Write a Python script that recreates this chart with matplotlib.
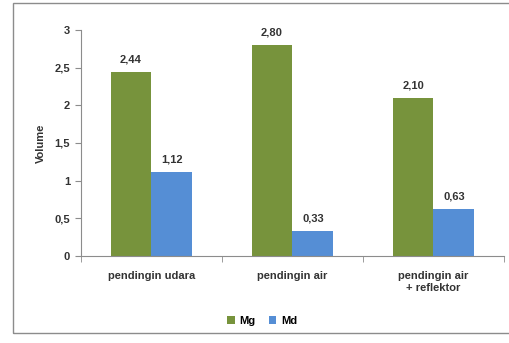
import numpy as np
import matplotlib
matplotlib.use("Agg")
import matplotlib.pyplot as plt
from matplotlib.patches import Rectangle

categories = ["pendingin udara", "pendingin air", "pendingin air\n+ reflektor"]
mg_values = [2.44, 2.80, 2.10]
md_values = [1.12, 0.33, 0.63]
y_ticks = [0, 0.5, 1, 1.5, 2, 2.5, 3]
y_tick_labels = ["0", "0,5", "1", "1,5", "2", "2,5", "3"]

plt.rcParams["font.family"] = ["Liberation Sans", "DejaVu Sans"]
plt.rcParams["font.weight"] = "bold"

W, H = 510, 343
fs = 8
fig = plt.figure(figsize=(W / 100, H / 100), dpi=100)
ax = fig.add_axes([81 / W, 1 - 256 / H, (504 - 81) / W, (256 - 30) / H])

# outer chart frame
fig.patches.append(Rectangle((13 / W, 1 - 333 / H), 1.0, (333 - 3) / H,
                             transform=fig.transFigure, fill=False,
                             edgecolor="#8c8c8c", linewidth=1.0))

x = np.arange(len(categories))
w = 0.29
b1 = ax.bar(x - w / 2, mg_values, w, color="#77933C", label="Mg")
b2 = ax.bar(x + w / 2, md_values, w, color="#558ED5", label="Md")

for bars, vals in ((b1, mg_values), (b2, md_values)):
    for bar, v in zip(bars, vals):
        ax.text(bar.get_x() + bar.get_width() / 2, v + 0.1,
                f"{v:.2f}".replace(".", ","), ha="center", va="bottom",
                fontsize=fs, fontweight="bold", color="#333333")

ax.set_xlim(-0.5, len(categories) - 0.5)
ax.set_ylim(0, 3)
ax.set_yticks(y_ticks)
ax.set_yticklabels(y_tick_labels, fontsize=fs, fontweight="bold", color="#333333")
ax.set_xticks(x)
ax.set_xticklabels(categories, fontsize=fs, fontweight="bold", color="#333333")
ax.tick_params(axis="x", length=0, pad=11)
ax.set_xticks(np.arange(-0.5, len(categories)), minor=True)
ax.tick_params(axis="x", which="minor", length=4, color="#8c8c8c")
ax.tick_params(axis="y", length=4, color="#8c8c8c", pad=4)

for s in ("top", "right"):
    ax.spines[s].set_visible(False)
for s in ("left", "bottom"):
    ax.spines[s].set_color("#8c8c8c")

ax.set_ylabel("Volume", fontsize=fs, fontweight="bold", color="#333333", labelpad=6)

fig.legend(handles=[b1, b2], labels=["Mg", "Md"], loc="center",
           bbox_to_anchor=(262 / W, 1 - 321 / H), ncol=2, frameon=False,
           fontsize=fs, handlelength=0.7, handleheight=0.7, handletextpad=0.4,
           columnspacing=1.2)

fig.savefig("out.png", dpi=100)
